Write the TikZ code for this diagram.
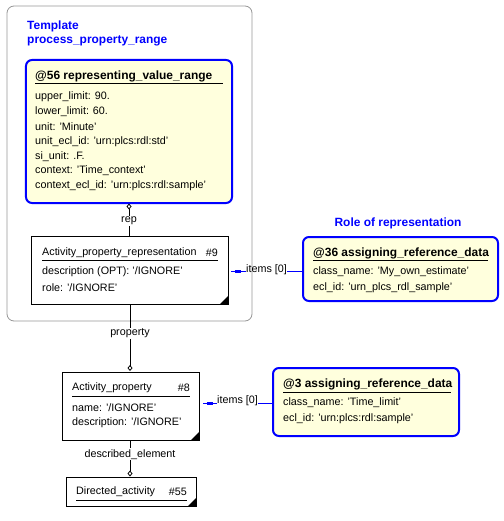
\documentclass[tikz,border=0pt]{standalone}
\usepackage{fontspec}
\setmainfont{Liberation Sans}
\usetikzlibrary{arrows.meta}
\definecolor{notefill}{RGB}{255,255,221}
\definecolor{tmplgray}{RGB}{150,150,150}
\definecolor{pureblue}{RGB}{0,0,255}
\tikzset{
  x=1bp, y=-1bp,
  tmplbox/.style={draw=tmplgray, line width=0.8bp, rounded corners=7bp},
  refbox/.style={draw=pureblue, line width=2bp, rounded corners=6bp, fill=notefill},
  entbox/.style={draw=black, line width=1bp, fill=white},
  txt/.style={inner sep=0pt, anchor=west, font=\fontsize{10.8}{12}\selectfont},
  txtr/.style={txt, anchor=east},
  btxt/.style={inner sep=0pt, anchor=west, font=\bfseries\fontsize{12}{14}\selectfont},
  bluetitle/.style={btxt, text=pureblue},
  ul/.style={draw=black, line width=1bp},
  rel/.style={draw=black, line width=0.8bp, -{Diamond[open, length=6bp, width=5bp, line width=0.8bp]}},
  rellab/.style={fill=white, inner sep=1pt, font=\fontsize{10.8}{12}\selectfont},
  itemlab/.style={inner sep=0pt, font=\fontsize{10.8}{12}\selectfont},
  bluel/.style={draw=pureblue, line width=1bp},
}
\newcommand{\cornermark}[1]{\fill[black] (#1) ++(-9,0) -- ++(9,-9) -- ++(0,9) -- cycle;}
\begin{document}
\begin{tikzpicture}
\useasboundingbox (0,0) rectangle (504,521);
% template frame
\draw[tmplbox] (7,6) rectangle (252,321);
\node[bluetitle] (tt1) at (27,26) {Template};
\node[bluetitle] (tt2) at (27,41) {process\_property\_range};

% @56 box
\node[refbox, minimum width=206bp, minimum height=143bp, inner sep=0pt] (b56) at (129,131.5) {};
\node[btxt] (b56t) at (35,76) {@56 representing\_value\_range};
\draw[ul] (35,84) -- (223,84);
\node[txt] (b56a1) at (35,97) {upper\_limit: 90.};
\node[txt] (b56a2) at (35,112) {lower\_limit: 60.};
\node[txt] (b56a3) at (35,127) {unit: 'Minute'};
\node[txt] (b56a4) at (35,142) {unit\_ecl\_id: 'urn:plcs:rdl:std'};
\node[txt] (b56a5) at (35,157) {si\_unit: .F.};
\node[txt] (b56a6) at (35,171) {context: 'Time\_context'};
\node[txt] (b56a7) at (35,186) {context\_ecl\_id: 'urn:plcs:rdl:sample'};

% Activity_property_representation
\node[entbox, minimum width=196bp, minimum height=68bp, inner sep=0pt] (apr) at (130,270) {};
\cornermark{apr.south east}
\node[txt] (aprt) at (42,253) {Activity\_property\_representation};
\node[txtr] (aprn) at (218,253) {\#9};
\draw[ul] (42,260) -- (218,260);
\node[txt] (apra1) at (42,272) {description (OPT): '/IGNORE'};
\node[txt] (apra2) at (42,288) {role: '/IGNORE'};

% @36 box
\node[btxt, anchor=center, text=pureblue] (role) at (398,223) {Role of representation};
\node[refbox, minimum width=195bp, minimum height=64bp, inner sep=0pt] (b36) at (400.5,269) {};
\node[btxt] (b36t) at (313,253) {@36 assigning\_reference\_data};
\draw[ul] (313,260) -- (488,260);
\node[txt] (b36a1) at (313,272) {class\_name: 'My\_own\_estimate'};
\node[txt] (b36a2) at (313,288) {ecl\_id: 'urn\_plcs\_rdl\_sample'};

% Activity_property
\node[entbox, minimum width=137bp, minimum height=68bp, inner sep=0pt] (ap) at (130.5,406) {};
\cornermark{ap.south east}
\node[txt] (apt) at (72,388) {Activity\_property};
\node[txtr] (apn) at (190,388) {\#8};
\draw[ul] (72,396) -- (190,396);
\node[txt] (apa1) at (72,408) {name: '/IGNORE'};
\node[txt] (apa2) at (72,423) {description: '/IGNORE'};

% @3 box
\node[refbox, minimum width=186bp, minimum height=68bp, inner sep=0pt] (b3) at (366,402) {};
\node[btxt] (b3t) at (283,384) {@3 assigning\_reference\_data};
\draw[ul] (283,392) -- (451,392);
\node[txt] (b3a1) at (283,403) {class\_name: 'Time\_limit'};
\node[txt] (b3a2) at (283,419) {ecl\_id: 'urn:plcs:rdl:sample'};

% Directed_activity
\node[entbox, minimum width=130bp, minimum height=29bp, inner sep=0pt] (da) at (131,491.5) {};
\cornermark{da.south east}
\node[txt] (dat) at (76,492) {Directed\_activity};
\node[txtr] (dan) at (187,492) {\#55};
\draw[ul] (76,500) -- (187,500);

% relations with diamonds
\draw[rel] (apr.north -| 129,0) -- (129,203.5) node[rellab, pos=0.45] (lrep) {rep};
\draw[rel] (apr.south -| 130,0) -- (130,371) node[rellab, pos=0.43] (lprop) {property};
\draw[rel] (ap.south -| 130,0) -- (130,476.5) node[rellab, pos=0.38] (lde) {described\_element};

% items connectors
\node[itemlab, anchor=west] (it1) at (246,270) {items [0]};
\draw[bluel] (b36.west |- 0,271) -- (it1.east |- 0,271);
\coordinate (e1) at (231,271);
\draw[bluel] (it1.west |- 0,271) -- (e1);
\fill[pureblue] (235,269.5) rectangle (241,272.5);

\node[itemlab, anchor=west] (it2) at (217,401) {items [0]};
\draw[bluel] (b3.west |- 0,403) -- (it2.east |- 0,403);
\coordinate (e2) at (203,403);
\draw[bluel] (it2.west |- 0,403) -- (e2);
\fill[pureblue] (207,401.5) rectangle (213,404.5);
\end{tikzpicture}
\end{document}
